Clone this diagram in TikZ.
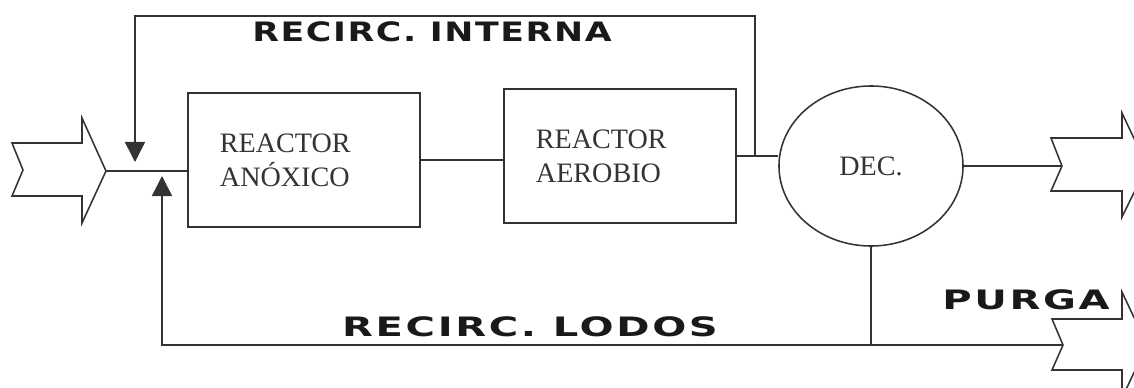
\documentclass[tikz,border=0pt]{standalone}
\usepackage{fontspec}
\setmainfont{Liberation Serif}
\newfontfamily\tagfont[FakeStretch=1.3,LetterSpace=6]{DejaVu Sans}
\newfontfamily\widetagfont[FakeStretch=1.5,LetterSpace=10]{DejaVu Sans}
\usetikzlibrary{shapes.geometric,arrows.meta}

\begin{document}
\begin{tikzpicture}[
  x=0.025cm, y=-0.025cm,
  line width=1.1pt, color=black!80,
  reactor/.style={rectangle, draw, minimum width=5.8cm, minimum height=3.35cm,
    inner xsep=0.8cm, text width=4.2cm, align=left,
    font=\fontsize{20}{24}\selectfont},
  decanter/.style={ellipse, draw, minimum width=4.6cm, minimum height=4cm,
    inner sep=0pt, font=\fontsize{20}{24}\selectfont},
  flowtag/.style={font=\tagfont\bfseries\fontsize{19}{20}\selectfont, text=black!90},
  wideflowtag/.style={flowtag, font=\widetagfont\bfseries\fontsize{19}{20}\selectfont},
  tip/.style={-{Triangle[width=0.5cm, length=0.5cm]}}
]
  \useasboundingbox (0,0) rectangle (1134,388);
  \clip (0,0) rectangle (1134,388);

  \node[reactor] (anox) at (304,160) {REACTOR\\ANÓXICO};
  \node[reactor] (aer) at (620,156) {REACTOR\\AEROBIO};
  \node[decanter] (dec) at (871,166) {DEC.};

  \coordinate (inTip) at (106,171);
  \coordinate (split) at (755,156);
  \coordinate (topRight) at (755,16);
  \coordinate (downTip) at (135,162);
  \coordinate (upTip) at (162,176);
  \coordinate (outNotch) at (1062,166);
  \coordinate (purgeNotch) at (1063,345);

  \draw (12,143) -- (82,143) -- (82,118) -- (inTip) -- (82,223) -- (82,196)
    -- (12,196) -- (23,170) -- cycle;
  \draw (1051,138) -- (1122,138) -- (1122,113) -- (1147,166) -- (1122,217)
    -- (1122,191) -- (1051,191) -- (outNotch) -- cycle;
  \draw (1052,319) -- (1122,319) -- (1122,292) -- (1147,345) -- (1122,398)
    -- (1122,370) -- (1052,370) -- (purgeNotch) -- cycle;

  \draw (inTip) -- (inTip -| anox.west);
  \draw (anox.east) -- (anox.east -| aer.west);
  \draw (aer.east) -- (aer.east -| dec.west);
  \draw (dec.east) -- (outNotch);
  \draw[tip] (split) -- (topRight) -| (downTip);
  \draw (dec.south) -- (dec.south |- purgeNotch);
  \draw[tip] (purgeNotch) -| (upTip);

  \node[flowtag] (intTag) at (432,32) {RECIRC. INTERNA};
  \node[wideflowtag] (sludgeTag) at (530,327) {RECIRC. LODOS};
  \node[wideflowtag] (purgeTag) at (1026,300) {PURGA};
\end{tikzpicture}
\end{document}
